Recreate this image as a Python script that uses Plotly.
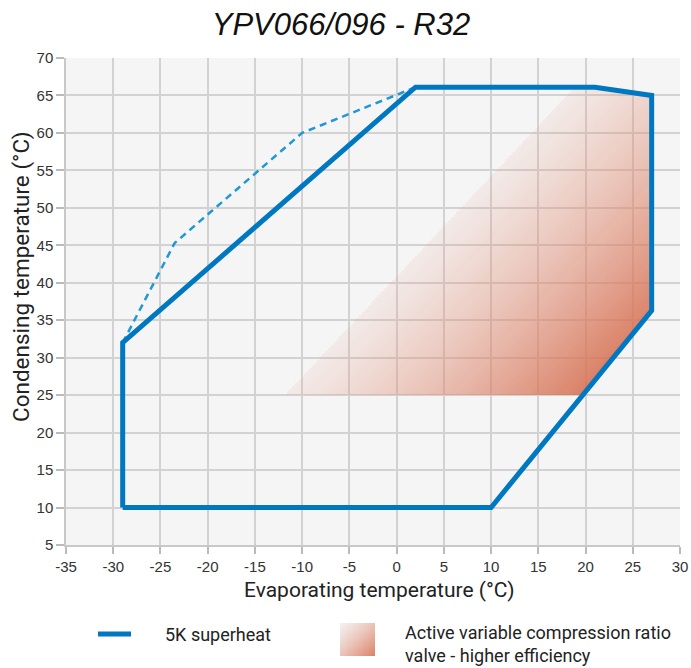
import numpy as np
import plotly.graph_objects as go

# ---- data ----
envelope_x = [-29, 10, 27, 27, 21, 2, -29, -29]
envelope_y = [10, 10, 36.3, 65, 66.1, 66.1, 32, 10]
dashed_x = [-29, -23.5, -10, 2]
dashed_y = [32, 45.3, 60, 66.1]
gradient_x = [-11.8, 19.6, 27, 27, 21, 18.9]
gradient_y = [25, 25, 36.3, 65, 66.1, 66.1]
x_ticks = list(range(-35, 31, 5))
y_ticks = list(range(5, 71, 5))

title_text = "YPV066/096 - R32"
x_title = "Evaporating temperature (°C)"
y_title = "Condensing temperature (°C)"
legend_line_text = "5K superheat"
legend_grad_text = "Active variable compression ratio<br>valve - higher efficiency"

# ---- layout geometry (page pixels) ----
W, H = 691, 668
OFF = 0  # body margin removed via post_script
P_LEFT, P_RIGHT, P_TOP, P_BOTTOM = 66, 680, 58, 545  # plot area in page px
L = P_LEFT - OFF
R = W - (P_RIGHT - OFF)
T = P_TOP - OFF
B = 2
plot_w = W - L - R
plot_h = H - T - B

def fy(page_y):
    return page_y - OFF

y_dom0 = (H - B - fy(P_BOTTOM)) / plot_h
sx = (P_RIGHT - P_LEFT) / 65.0
sy = (P_BOTTOM - P_TOP) / 65.0

def px_to_paper(px, py):
    return (px - OFF - L) / plot_w, (H - B - (py - OFF)) / plot_h

# ---- gradient raster ----
gx = np.arange(-12.0, 27.05, 0.1)
gy = np.arange(24.95, 66.2, 0.1)
XX, YY = np.meshgrid(gx, gy)

def inside(px, py, vx, vy):
    res = np.zeros(px.shape, dtype=bool)
    n = len(vx)
    j = n - 1
    for i in range(n):
        xi, yi, xj, yj = vx[i], vy[i], vx[j], vy[j]
        cond = ((yi > py) != (yj > py))
        with np.errstate(divide="ignore", invalid="ignore"):
            xint = (xj - xi) * (py - yi) / (yj - yi) + xi
        res ^= cond & (px < xint)
        j = i
    return res

mask = inside(XX, YY, gradient_x, gradient_y)
x0, y0 = gradient_x[0], gradient_y[0]
x1, y1 = gradient_x[-1], gradient_y[-1]
dvec = np.array([(x1 - x0) * sx, -(y1 - y0) * sy])
nvec = np.array([-dvec[1], dvec[0]])
nvec = nvec / np.linalg.norm(nvec)
if nvec[0] < 0:
    nvec = -nvec
tt = ((XX - x0) * sx) * nvec[0] + (-(YY - y0) * sy) * nvec[1]
tt = tt / np.nanmax(np.where(mask, tt, np.nan))
Z = np.where(mask, tt, np.nan)

grad_scale = [
    [0.0, "rgba(228,160,140,0.12)"],
    [1.0, "rgba(214,112,82,0.88)"],
]

fig = go.Figure()

fig.add_trace(go.Heatmap(
    x=gx, y=gy, z=Z, colorscale=grad_scale, showscale=False,
    zmin=0, zmax=1, hoverinfo="skip", zsmooth=False,
))

fig.add_trace(go.Scatter(
    x=dashed_x, y=dashed_y, mode="lines",
    line=dict(color="#1f98d5", width=2.5, dash="7px,5px"),
    hoverinfo="skip", showlegend=False,
))
fig.add_trace(go.Scatter(
    x=envelope_x, y=envelope_y, mode="lines",
    line=dict(color="#0078c1", width=5),
    hoverinfo="skip", showlegend=False,
))

# legend gradient swatch
lg = np.linspace(0, 1, 30)
LX, LY = np.meshgrid(lg, lg)
LZ = (LX + (1 - LY)) / 2
fig.add_trace(go.Heatmap(
    x=lg, y=lg, z=LZ, colorscale=[[0, "rgba(228,160,140,0.05)"], [1, "rgba(214,112,82,0.9)"]],
    showscale=False, zmin=0, zmax=1, hoverinfo="skip", zsmooth="best",
    xaxis="x2", yaxis="y2",
))

sw_x0, sw_y1 = px_to_paper(340, 623)
sw_x1, sw_y0 = px_to_paper(375, 656)

grid_col = "#d2d2d2"
fig.update_layout(
    width=W, height=H,
    margin=dict(l=L, r=R, t=T, b=B, autoexpand=False),
    paper_bgcolor="white",
    plot_bgcolor="#f5f5f5",
    showlegend=False,
    font=dict(family="Liberation Sans, Arial, sans-serif", color="#333333", size=15),
    title=dict(
        text=title_text, x=(341 - OFF) / W, xanchor="center", xref="container",
        y=1 - fy(24) / H, yanchor="middle", yref="container", automargin=False,
        font=dict(family="Liberation Sans, Arial, sans-serif", size=31,
                  color="#111111", style="italic"),
    ),
    xaxis=dict(
        range=[-35, 30], tickvals=x_ticks, ticktext=[str(v) for v in x_ticks],
        showgrid=True, gridcolor=grid_col, gridwidth=1.5, automargin=False,
        zeroline=False, showline=True, linecolor="#c8c8c8", linewidth=1.5,
        ticks="outside", ticklen=7, tickcolor="#bbbbbb", tickwidth=1.5,
        domain=[0, 1], anchor="y",
        tickfont=dict(size=15, color="#333333"),
    ),
    yaxis=dict(
        range=[5, 70], tickvals=y_ticks, ticktext=[str(v) for v in y_ticks],
        showgrid=True, gridcolor=grid_col, gridwidth=1.5, automargin=False,
        zeroline=False, showline=True, linecolor="#c8c8c8", linewidth=1.5,
        ticks="outside", ticklen=8, tickcolor="#bbbbbb", tickwidth=1.5,
        domain=[y_dom0, 1], anchor="x",
        tickfont=dict(size=15, color="#333333"),
    ),
    xaxis2=dict(
        domain=[sw_x0, sw_x1], anchor="y2",
        range=[0, 1], visible=False, fixedrange=True, automargin=False,
    ),
    yaxis2=dict(
        domain=[max(0.0, sw_y0), sw_y1], anchor="x2",
        range=[0, 1], visible=False, fixedrange=True, automargin=False,
    ),
)

annos = []
ax_, ay_ = px_to_paper(379, 590)
annos.append(dict(text=x_title, x=ax_, y=ay_, xref="paper", yref="paper",
                  showarrow=False, xanchor="center", yanchor="middle",
                  font=dict(family="Roboto, sans-serif", size=21, color="#222222")))
bx_, by_ = px_to_paper(21, 277)
annos.append(dict(text=y_title, x=bx_, y=by_, xref="paper", yref="paper",
                  showarrow=False, xanchor="center", yanchor="middle", textangle=-90,
                  font=dict(family="Roboto, sans-serif", size=22.5, color="#222222")))
cx_, cy_ = px_to_paper(163, 634)
annos.append(dict(text=legend_line_text, x=cx_, y=cy_, xref="paper", yref="paper",
                  showarrow=False, xanchor="left", yanchor="middle",
                  font=dict(family="Roboto, sans-serif", size=18, color="#222222")))
dx_, dy_ = px_to_paper(403, 644)
annos.append(dict(text=legend_grad_text, x=dx_, y=dy_, xref="paper", yref="paper",
                  showarrow=False, xanchor="left", yanchor="middle", align="left",
                  font=dict(family="Roboto, sans-serif", size=18, color="#222222")))
fig.update_layout(annotations=annos)

lx0, ly = px_to_paper(98, 634)
lx1, _ = px_to_paper(131, 634)
fig.add_shape(type="line", xref="paper", yref="paper", x0=lx0, x1=lx1, y0=ly, y1=ly,
              line=dict(color="#0078c1", width=5))

fig.write_html("out.html",
               config={"displayModeBar": False},
               post_script="document.body.style.margin='0px';document.body.style.overflow='hidden';")
